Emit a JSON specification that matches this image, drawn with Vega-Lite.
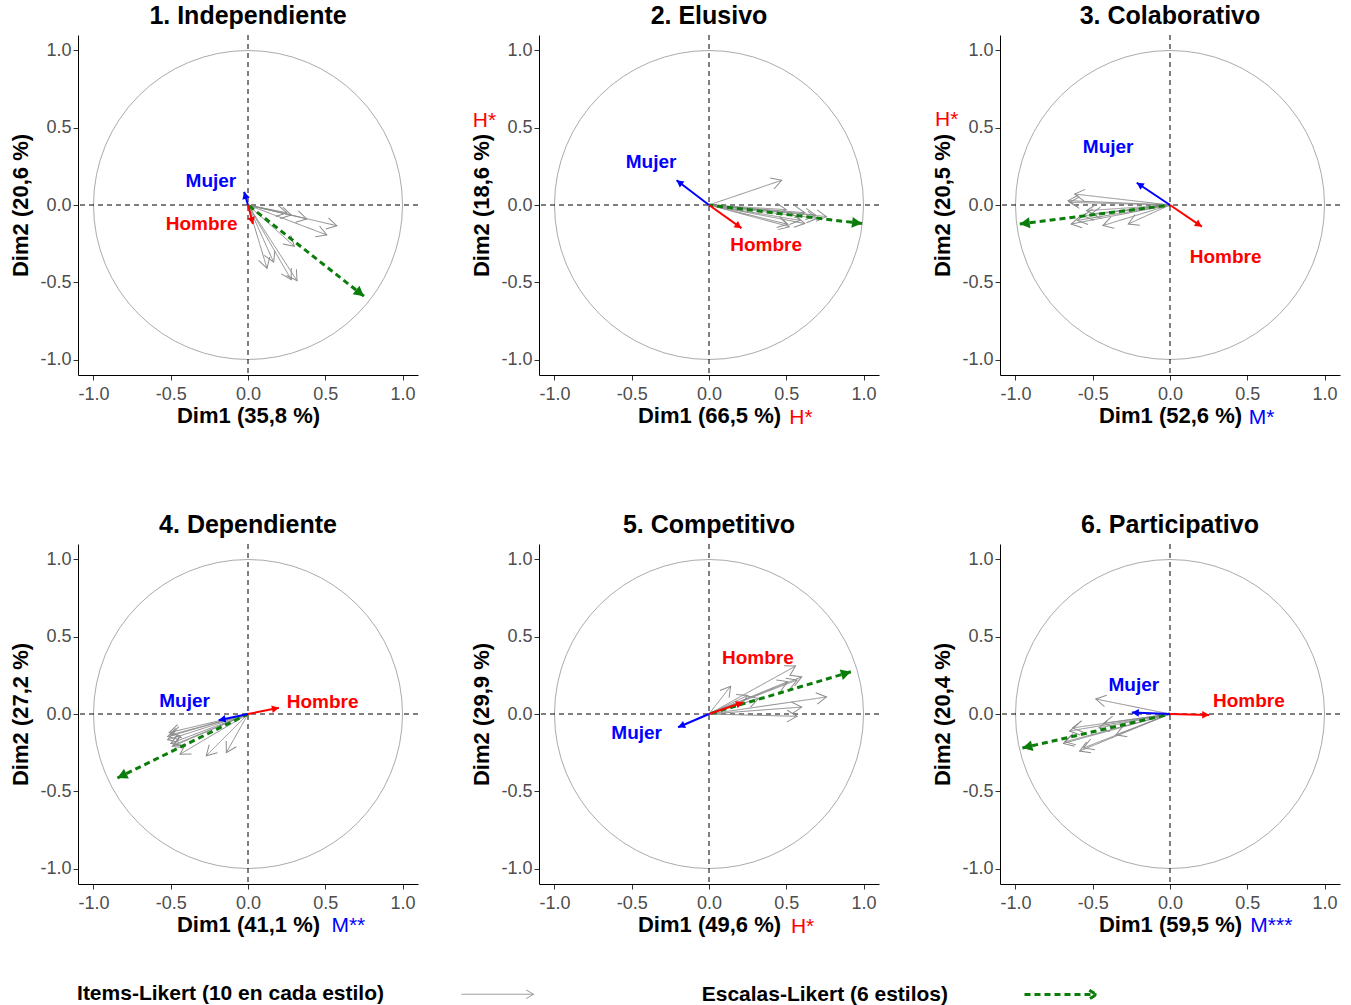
{
  "$schema": "https://vega.github.io/schema/vega-lite/v6.json",
  "padding": {"left": 9, "top": 3, "right": 5, "bottom": 0},
  "datasets": {
    "vec": [
      {"p": 1, "t": "item", "x": 0.25, "y": -0.05},
      {"p": 1, "t": "item", "x": 0.28, "y": -0.065},
      {"p": 1, "t": "item", "x": 0.38, "y": -0.09},
      {"p": 1, "t": "item", "x": 0.575, "y": -0.134},
      {"p": 1, "t": "item", "x": 0.51, "y": -0.194},
      {"p": 1, "t": "item", "x": 0.3, "y": -0.267},
      {"p": 1, "t": "item", "x": 0.123, "y": -0.41},
      {"p": 1, "t": "item", "x": 0.166, "y": -0.37},
      {"p": 1, "t": "item", "x": 0.28, "y": -0.483},
      {"p": 1, "t": "item", "x": 0.317, "y": -0.49},
      {"p": 1, "t": "escala", "x": 0.75, "y": -0.59},
      {"p": 1, "t": "Mujer", "x": -0.025, "y": 0.085},
      {"p": 1, "t": "Hombre", "x": 0.032, "y": -0.123},
      {"p": 2, "t": "item", "x": 0.47, "y": 0.16},
      {"p": 2, "t": "item", "x": 0.5, "y": -0.03},
      {"p": 2, "t": "item", "x": 0.62, "y": -0.05},
      {"p": 2, "t": "item", "x": 0.69, "y": -0.065},
      {"p": 2, "t": "item", "x": 0.76, "y": -0.075},
      {"p": 2, "t": "item", "x": 0.52, "y": -0.14},
      {"p": 2, "t": "item", "x": 0.62, "y": -0.12},
      {"p": 2, "t": "item", "x": 0.59, "y": -0.1},
      {"p": 2, "t": "item", "x": 0.51, "y": -0.125},
      {"p": 2, "t": "item", "x": 0.7, "y": -0.086},
      {"p": 2, "t": "escala", "x": 0.99, "y": -0.12},
      {"p": 2, "t": "Mujer", "x": -0.21, "y": 0.16},
      {"p": 2, "t": "Hombre", "x": 0.21, "y": -0.15},
      {"p": 3, "t": "item", "x": -0.617, "y": 0.071},
      {"p": 3, "t": "item", "x": -0.66, "y": 0.028},
      {"p": 3, "t": "item", "x": -0.65, "y": 0.017},
      {"p": 3, "t": "item", "x": -0.54, "y": -0.037},
      {"p": 3, "t": "item", "x": -0.64, "y": -0.123},
      {"p": 3, "t": "item", "x": -0.434, "y": -0.133},
      {"p": 3, "t": "item", "x": -0.27, "y": -0.123},
      {"p": 3, "t": "item", "x": -0.56, "y": -0.07},
      {"p": 3, "t": "item", "x": -0.51, "y": -0.058},
      {"p": 3, "t": "item", "x": -0.6, "y": -0.1},
      {"p": 3, "t": "escala", "x": -0.972, "y": -0.123},
      {"p": 3, "t": "Mujer", "x": -0.215, "y": 0.144},
      {"p": 3, "t": "Hombre", "x": 0.206, "y": -0.14},
      {"p": 4, "t": "item", "x": -0.51, "y": -0.12},
      {"p": 4, "t": "item", "x": -0.52, "y": -0.146},
      {"p": 4, "t": "item", "x": -0.52, "y": -0.167},
      {"p": 4, "t": "item", "x": -0.5, "y": -0.19},
      {"p": 4, "t": "item", "x": -0.49, "y": -0.21},
      {"p": 4, "t": "item", "x": -0.44, "y": -0.26},
      {"p": 4, "t": "item", "x": -0.27, "y": -0.27},
      {"p": 4, "t": "item", "x": -0.14, "y": -0.25},
      {"p": 4, "t": "item", "x": -0.5, "y": -0.135},
      {"p": 4, "t": "item", "x": -0.48, "y": -0.2},
      {"p": 4, "t": "escala", "x": -0.845, "y": -0.414},
      {"p": 4, "t": "Mujer", "x": -0.19, "y": -0.04},
      {"p": 4, "t": "Hombre", "x": 0.2, "y": 0.04},
      {"p": 5, "t": "item", "x": 0.56, "y": 0.31},
      {"p": 5, "t": "item", "x": 0.6, "y": 0.24},
      {"p": 5, "t": "item", "x": 0.57, "y": 0.22},
      {"p": 5, "t": "item", "x": 0.51, "y": 0.21},
      {"p": 5, "t": "item", "x": 0.14, "y": 0.18},
      {"p": 5, "t": "item", "x": 0.32, "y": 0.1},
      {"p": 5, "t": "item", "x": 0.76, "y": 0.11},
      {"p": 5, "t": "item", "x": 0.6, "y": 0.045},
      {"p": 5, "t": "item", "x": 0.57, "y": -0.015},
      {"p": 5, "t": "item", "x": 0.25, "y": 0.12},
      {"p": 5, "t": "escala", "x": 0.918, "y": 0.273},
      {"p": 5, "t": "Mujer", "x": -0.2, "y": -0.086},
      {"p": 5, "t": "Hombre", "x": 0.22, "y": 0.075},
      {"p": 6, "t": "item", "x": -0.48, "y": 0.097},
      {"p": 6, "t": "item", "x": -0.65, "y": -0.11},
      {"p": 6, "t": "item", "x": -0.63, "y": -0.09},
      {"p": 6, "t": "item", "x": -0.69, "y": -0.19},
      {"p": 6, "t": "item", "x": -0.585, "y": -0.24},
      {"p": 6, "t": "item", "x": -0.43, "y": -0.06},
      {"p": 6, "t": "item", "x": -0.35, "y": -0.135},
      {"p": 6, "t": "item", "x": -0.46, "y": -0.09},
      {"p": 6, "t": "item", "x": -0.68, "y": -0.18},
      {"p": 6, "t": "item", "x": -0.56, "y": -0.22},
      {"p": 6, "t": "escala", "x": -0.955, "y": -0.22},
      {"p": 6, "t": "Mujer", "x": -0.247, "y": 0.009},
      {"p": 6, "t": "Hombre", "x": 0.254, "y": -0.006}
    ],
    "lab": [
      {"p": 1, "t": "Mujer", "x": -0.24, "y": 0.153},
      {"p": 1, "t": "Hombre", "x": -0.3, "y": -0.123},
      {"p": 2, "t": "Mujer", "x": -0.375, "y": 0.28},
      {"p": 2, "t": "Hombre", "x": 0.37, "y": -0.26},
      {"p": 3, "t": "Mujer", "x": -0.4, "y": 0.377},
      {"p": 3, "t": "Hombre", "x": 0.36, "y": -0.337},
      {"p": 4, "t": "Mujer", "x": -0.41, "y": 0.086},
      {"p": 4, "t": "Hombre", "x": 0.483, "y": 0.079},
      {"p": 5, "t": "Mujer", "x": -0.468, "y": -0.123},
      {"p": 5, "t": "Hombre", "x": 0.316, "y": 0.365},
      {"p": 6, "t": "Mujer", "x": -0.234, "y": 0.19},
      {"p": 6, "t": "Hombre", "x": 0.51, "y": 0.086}
    ],
    "note": [
      {"p": 2, "txt": "H*", "x": 0.52, "y": -1.38},
      {"p": 2, "txt": "H*", "x": -1.528, "y": 0.544},
      {"p": 3, "txt": "M*", "x": 0.51, "y": -1.376},
      {"p": 3, "txt": "H*", "x": -1.52, "y": 0.553},
      {"p": 4, "txt": "M**", "x": 0.54, "y": -1.372},
      {"p": 5, "txt": "H*", "x": 0.53, "y": -1.377},
      {"p": 6, "txt": "M***", "x": 0.52, "y": -1.372}
    ]
  },
  "columns": 3,
  "spacing": {"row": 169, "column": 121},
  "bounds": "flush",
  "concat": [
    {
      "title": "1. Independiente",
      "width": 340, "height": 340,
      "layer": [
        {"data": {"values": [{}]}, "mark": {"type": "point", "filled": false, "size": 95481, "color": "#ABABAB", "strokeWidth": 1, "opacity": 1},
         "encoding": {
           "x": {"datum": 0, "type": "quantitative", "scale": {"domain": [-1.1, 1.1]}, "axis": {"title": "Dim1 (35,8 %)", "values": [-1, -0.5, 0, 0.5, 1], "format": ".1f"}},
           "y": {"datum": 0, "type": "quantitative", "scale": {"domain": [-1.1, 1.1]}, "axis": {"title": "Dim2 (20,6 %)", "values": [-1, -0.5, 0, 0.5, 1], "format": ".1f"}}}},
        {"data": {"values": [{}]}, "mark": {"type": "rule", "strokeDash": [5, 4], "color": "black"}, "encoding": {"y": {"datum": 0, "type": "quantitative", "scale": {"domain": [-1.1, 1.1]}}}},
        {"data": {"values": [{}]}, "mark": {"type": "rule", "strokeDash": [5, 4], "color": "black"}, "encoding": {"x": {"datum": 0, "type": "quantitative", "scale": {"domain": [-1.1, 1.1]}}}},
        {"data": {"name": "vec"}, "transform": [{"filter": "datum.p == 1 && datum.t == 'item'"}],
         "mark": {"type": "rule"},
         "encoding": {
           "x": {"field": "x", "type": "quantitative", "scale": {"domain": [-1.1, 1.1]}},
           "y": {"field": "y", "type": "quantitative", "scale": {"domain": [-1.1, 1.1]}},
           "x2": {"datum": 0}, "y2": {"datum": 0},
           "color": {"field": "t", "type": "nominal", "scale": {"domain": ["item", "escala"], "range": ["#8C8C8C", "#0A7D0A"]},
             "legend": {"orient": "none", "legendX": 383, "legendY": 922, "direction": "horizontal", "title": null, "symbolType": "M-1,0L1,0M0.8,-0.12L1,0L0.8,0.12", "symbolSize": 5184, "labelFontSize": 21, "labelFontWeight": "bold", "labelColor": "black", "labelAlign": "right", "labelOffset": -150, "columnPadding": 165, "labelLimit": 500, "labelExpr": "datum.label == 'item' ? 'Items-Likert (10 en cada estilo)' : 'Escalas-Likert (6 estilos)'"}},
           "strokeDash": {"field": "t", "type": "nominal", "scale": {"domain": ["item", "escala"], "range": [[1, 0], [6, 4]]},
             "legend": {"orient": "none", "legendX": 383, "legendY": 922, "direction": "horizontal", "title": null, "symbolType": "M-1,0L1,0M0.8,-0.12L1,0L0.8,0.12", "symbolSize": 5184, "labelFontSize": 21, "labelFontWeight": "bold", "labelColor": "black", "labelAlign": "right", "labelOffset": -150, "columnPadding": 165, "labelLimit": 500, "labelExpr": "datum.label == 'item' ? 'Items-Likert (10 en cada estilo)' : 'Escalas-Likert (6 estilos)'"}},
           "strokeWidth": {"field": "t", "type": "nominal", "scale": {"domain": ["item", "escala"], "range": [1, 3]},
             "legend": {"orient": "none", "legendX": 383, "legendY": 922, "direction": "horizontal", "title": null, "symbolType": "M-1,0L1,0M0.8,-0.12L1,0L0.8,0.12", "symbolSize": 5184, "labelFontSize": 21, "labelFontWeight": "bold", "labelColor": "black", "labelAlign": "right", "labelOffset": -150, "columnPadding": 165, "labelLimit": 500, "labelExpr": "datum.label == 'item' ? 'Items-Likert (10 en cada estilo)' : 'Escalas-Likert (6 estilos)'"}}}},
        {"data": {"name": "vec"}, "transform": [{"filter": "datum.p == 1 && datum.t == 'item'"}, {"calculate": "atan2(-datum.y, datum.x) * 180 / PI", "as": "ang"}],
         "mark": {"type": "point", "shape": "M-1,-0.58L0,0L-1,0.58", "filled": false, "size": 400, "color": "#8C8C8C", "strokeWidth": 1, "opacity": 1},
         "encoding": {"x": {"field": "x", "type": "quantitative", "scale": {"domain": [-1.1, 1.1]}}, "y": {"field": "y", "type": "quantitative", "scale": {"domain": [-1.1, 1.1]}}, "angle": {"field": "ang", "type": "quantitative", "scale": null}}},
        {"data": {"name": "vec"}, "transform": [{"filter": "datum.p == 1 && datum.t == 'escala'"}],
         "mark": {"type": "rule"},
         "encoding": {
           "x": {"field": "x", "type": "quantitative", "scale": {"domain": [-1.1, 1.1]}},
           "y": {"field": "y", "type": "quantitative", "scale": {"domain": [-1.1, 1.1]}},
           "x2": {"datum": 0}, "y2": {"datum": 0},
           "color": {"field": "t", "type": "nominal"}, "strokeDash": {"field": "t", "type": "nominal"}, "strokeWidth": {"field": "t", "type": "nominal"}}},
        {"data": {"name": "vec"}, "transform": [{"filter": "datum.p == 1 && datum.t == 'escala'"}, {"calculate": "atan2(-datum.y, datum.x) * 180 / PI", "as": "ang"}],
         "mark": {"type": "point", "shape": "M-1,-0.55L0,0L-1,0.55Z", "filled": true, "size": 400, "color": "#0A7D0A", "opacity": 1},
         "encoding": {"x": {"field": "x", "type": "quantitative", "scale": {"domain": [-1.1, 1.1]}}, "y": {"field": "y", "type": "quantitative", "scale": {"domain": [-1.1, 1.1]}}, "angle": {"field": "ang", "type": "quantitative", "scale": null}}},
        {"data": {"name": "vec"}, "transform": [{"filter": "datum.p == 1 && (datum.t == 'Mujer' || datum.t == 'Hombre')"}],
         "mark": {"type": "rule", "strokeWidth": 2},
         "encoding": {
           "x": {"field": "x", "type": "quantitative", "scale": {"domain": [-1.1, 1.1]}},
           "y": {"field": "y", "type": "quantitative", "scale": {"domain": [-1.1, 1.1]}},
           "x2": {"datum": 0}, "y2": {"datum": 0},
           "color": {"condition": {"test": "datum.t == 'Mujer'", "value": "#0000FF"}, "value": "#FF0000"}}},
        {"data": {"name": "vec"}, "transform": [{"filter": "datum.p == 1 && (datum.t == 'Mujer' || datum.t == 'Hombre')"}, {"calculate": "atan2(-datum.y, datum.x) * 180 / PI", "as": "ang"}],
         "mark": {"type": "point", "shape": "M-1,-0.55L0,0L-1,0.55Z", "filled": true, "size": 196, "opacity": 1},
         "encoding": {"x": {"field": "x", "type": "quantitative", "scale": {"domain": [-1.1, 1.1]}}, "y": {"field": "y", "type": "quantitative", "scale": {"domain": [-1.1, 1.1]}}, "angle": {"field": "ang", "type": "quantitative", "scale": null},
           "color": {"condition": {"test": "datum.t == 'Mujer'", "value": "#0000FF"}, "value": "#FF0000"}}},
        {"data": {"name": "lab"}, "transform": [{"filter": "datum.p == 1"}],
         "mark": {"type": "text", "fontSize": 19, "fontWeight": "bold", "align": "center", "baseline": "middle"},
         "encoding": {"x": {"field": "x", "type": "quantitative", "scale": {"domain": [-1.1, 1.1]}}, "y": {"field": "y", "type": "quantitative", "scale": {"domain": [-1.1, 1.1]}}, "text": {"field": "t"},
           "color": {"condition": {"test": "datum.t == 'Mujer'", "value": "#0000FF"}, "value": "#FF0000"}}}
      ]
    },
    {
      "title": "2. Elusivo",
      "width": 340, "height": 340,
      "layer": [
        {"data": {"values": [{}]}, "mark": {"type": "point", "filled": false, "size": 95481, "color": "#ABABAB", "strokeWidth": 1, "opacity": 1},
         "encoding": {
           "x": {"datum": 0, "type": "quantitative", "scale": {"domain": [-1.1, 1.1]}, "axis": {"title": "Dim1 (66,5 %)", "values": [-1, -0.5, 0, 0.5, 1], "format": ".1f"}},
           "y": {"datum": 0, "type": "quantitative", "scale": {"domain": [-1.1, 1.1]}, "axis": {"title": "Dim2 (18,6 %)", "values": [-1, -0.5, 0, 0.5, 1], "format": ".1f"}}}},
        {"data": {"values": [{}]}, "mark": {"type": "rule", "strokeDash": [5, 4], "color": "black"}, "encoding": {"y": {"datum": 0, "type": "quantitative", "scale": {"domain": [-1.1, 1.1]}}}},
        {"data": {"values": [{}]}, "mark": {"type": "rule", "strokeDash": [5, 4], "color": "black"}, "encoding": {"x": {"datum": 0, "type": "quantitative", "scale": {"domain": [-1.1, 1.1]}}}},
        {"data": {"name": "vec"}, "transform": [{"filter": "datum.p == 2 && datum.t == 'item'"}],
         "mark": {"type": "rule"},
         "encoding": {
           "x": {"field": "x", "type": "quantitative", "scale": {"domain": [-1.1, 1.1]}},
           "y": {"field": "y", "type": "quantitative", "scale": {"domain": [-1.1, 1.1]}},
           "x2": {"datum": 0}, "y2": {"datum": 0},
           "color": {"field": "t", "type": "nominal"}, "strokeDash": {"field": "t", "type": "nominal"}, "strokeWidth": {"field": "t", "type": "nominal"}}},
        {"data": {"name": "vec"}, "transform": [{"filter": "datum.p == 2 && datum.t == 'item'"}, {"calculate": "atan2(-datum.y, datum.x) * 180 / PI", "as": "ang"}],
         "mark": {"type": "point", "shape": "M-1,-0.58L0,0L-1,0.58", "filled": false, "size": 400, "color": "#8C8C8C", "strokeWidth": 1, "opacity": 1},
         "encoding": {"x": {"field": "x", "type": "quantitative", "scale": {"domain": [-1.1, 1.1]}}, "y": {"field": "y", "type": "quantitative", "scale": {"domain": [-1.1, 1.1]}}, "angle": {"field": "ang", "type": "quantitative", "scale": null}}},
        {"data": {"name": "vec"}, "transform": [{"filter": "datum.p == 2 && datum.t == 'escala'"}],
         "mark": {"type": "rule"},
         "encoding": {
           "x": {"field": "x", "type": "quantitative", "scale": {"domain": [-1.1, 1.1]}},
           "y": {"field": "y", "type": "quantitative", "scale": {"domain": [-1.1, 1.1]}},
           "x2": {"datum": 0}, "y2": {"datum": 0},
           "color": {"field": "t", "type": "nominal"}, "strokeDash": {"field": "t", "type": "nominal"}, "strokeWidth": {"field": "t", "type": "nominal"}}},
        {"data": {"name": "vec"}, "transform": [{"filter": "datum.p == 2 && datum.t == 'escala'"}, {"calculate": "atan2(-datum.y, datum.x) * 180 / PI", "as": "ang"}],
         "mark": {"type": "point", "shape": "M-1,-0.55L0,0L-1,0.55Z", "filled": true, "size": 400, "color": "#0A7D0A", "opacity": 1},
         "encoding": {"x": {"field": "x", "type": "quantitative", "scale": {"domain": [-1.1, 1.1]}}, "y": {"field": "y", "type": "quantitative", "scale": {"domain": [-1.1, 1.1]}}, "angle": {"field": "ang", "type": "quantitative", "scale": null}}},
        {"data": {"name": "vec"}, "transform": [{"filter": "datum.p == 2 && (datum.t == 'Mujer' || datum.t == 'Hombre')"}],
         "mark": {"type": "rule", "strokeWidth": 2},
         "encoding": {
           "x": {"field": "x", "type": "quantitative", "scale": {"domain": [-1.1, 1.1]}},
           "y": {"field": "y", "type": "quantitative", "scale": {"domain": [-1.1, 1.1]}},
           "x2": {"datum": 0}, "y2": {"datum": 0},
           "color": {"condition": {"test": "datum.t == 'Mujer'", "value": "#0000FF"}, "value": "#FF0000"}}},
        {"data": {"name": "vec"}, "transform": [{"filter": "datum.p == 2 && (datum.t == 'Mujer' || datum.t == 'Hombre')"}, {"calculate": "atan2(-datum.y, datum.x) * 180 / PI", "as": "ang"}],
         "mark": {"type": "point", "shape": "M-1,-0.55L0,0L-1,0.55Z", "filled": true, "size": 196, "opacity": 1},
         "encoding": {"x": {"field": "x", "type": "quantitative", "scale": {"domain": [-1.1, 1.1]}}, "y": {"field": "y", "type": "quantitative", "scale": {"domain": [-1.1, 1.1]}}, "angle": {"field": "ang", "type": "quantitative", "scale": null},
           "color": {"condition": {"test": "datum.t == 'Mujer'", "value": "#0000FF"}, "value": "#FF0000"}}},
        {"data": {"name": "lab"}, "transform": [{"filter": "datum.p == 2"}],
         "mark": {"type": "text", "fontSize": 19, "fontWeight": "bold", "align": "center", "baseline": "middle"},
         "encoding": {"x": {"field": "x", "type": "quantitative", "scale": {"domain": [-1.1, 1.1]}}, "y": {"field": "y", "type": "quantitative", "scale": {"domain": [-1.1, 1.1]}}, "text": {"field": "t"},
           "color": {"condition": {"test": "datum.t == 'Mujer'", "value": "#0000FF"}, "value": "#FF0000"}}},
        {"data": {"name": "note"}, "transform": [{"filter": "datum.p == 2"}],
         "mark": {"type": "text", "fontSize": 21, "align": "left", "baseline": "middle"},
         "encoding": {"x": {"field": "x", "type": "quantitative", "scale": {"domain": [-1.1, 1.1]}}, "y": {"field": "y", "type": "quantitative", "scale": {"domain": [-1.1, 1.1]}}, "text": {"field": "txt"},
           "color": {"condition": {"test": "indexof(datum.txt, 'H') == 0", "value": "#FF0000"}, "value": "#0000FF"}}}
      ]
    },
    {
      "title": "3. Colaborativo",
      "width": 340, "height": 340,
      "layer": [
        {"data": {"values": [{}]}, "mark": {"type": "point", "filled": false, "size": 95481, "color": "#ABABAB", "strokeWidth": 1, "opacity": 1},
         "encoding": {
           "x": {"datum": 0, "type": "quantitative", "scale": {"domain": [-1.1, 1.1]}, "axis": {"title": "Dim1 (52,6 %)", "values": [-1, -0.5, 0, 0.5, 1], "format": ".1f"}},
           "y": {"datum": 0, "type": "quantitative", "scale": {"domain": [-1.1, 1.1]}, "axis": {"title": "Dim2 (20,5 %)", "values": [-1, -0.5, 0, 0.5, 1], "format": ".1f"}}}},
        {"data": {"values": [{}]}, "mark": {"type": "rule", "strokeDash": [5, 4], "color": "black"}, "encoding": {"y": {"datum": 0, "type": "quantitative", "scale": {"domain": [-1.1, 1.1]}}}},
        {"data": {"values": [{}]}, "mark": {"type": "rule", "strokeDash": [5, 4], "color": "black"}, "encoding": {"x": {"datum": 0, "type": "quantitative", "scale": {"domain": [-1.1, 1.1]}}}},
        {"data": {"name": "vec"}, "transform": [{"filter": "datum.p == 3 && datum.t == 'item'"}],
         "mark": {"type": "rule"},
         "encoding": {
           "x": {"field": "x", "type": "quantitative", "scale": {"domain": [-1.1, 1.1]}},
           "y": {"field": "y", "type": "quantitative", "scale": {"domain": [-1.1, 1.1]}},
           "x2": {"datum": 0}, "y2": {"datum": 0},
           "color": {"field": "t", "type": "nominal"}, "strokeDash": {"field": "t", "type": "nominal"}, "strokeWidth": {"field": "t", "type": "nominal"}}},
        {"data": {"name": "vec"}, "transform": [{"filter": "datum.p == 3 && datum.t == 'item'"}, {"calculate": "atan2(-datum.y, datum.x) * 180 / PI", "as": "ang"}],
         "mark": {"type": "point", "shape": "M-1,-0.58L0,0L-1,0.58", "filled": false, "size": 400, "color": "#8C8C8C", "strokeWidth": 1, "opacity": 1},
         "encoding": {"x": {"field": "x", "type": "quantitative", "scale": {"domain": [-1.1, 1.1]}}, "y": {"field": "y", "type": "quantitative", "scale": {"domain": [-1.1, 1.1]}}, "angle": {"field": "ang", "type": "quantitative", "scale": null}}},
        {"data": {"name": "vec"}, "transform": [{"filter": "datum.p == 3 && datum.t == 'escala'"}],
         "mark": {"type": "rule"},
         "encoding": {
           "x": {"field": "x", "type": "quantitative", "scale": {"domain": [-1.1, 1.1]}},
           "y": {"field": "y", "type": "quantitative", "scale": {"domain": [-1.1, 1.1]}},
           "x2": {"datum": 0}, "y2": {"datum": 0},
           "color": {"field": "t", "type": "nominal"}, "strokeDash": {"field": "t", "type": "nominal"}, "strokeWidth": {"field": "t", "type": "nominal"}}},
        {"data": {"name": "vec"}, "transform": [{"filter": "datum.p == 3 && datum.t == 'escala'"}, {"calculate": "atan2(-datum.y, datum.x) * 180 / PI", "as": "ang"}],
         "mark": {"type": "point", "shape": "M-1,-0.55L0,0L-1,0.55Z", "filled": true, "size": 400, "color": "#0A7D0A", "opacity": 1},
         "encoding": {"x": {"field": "x", "type": "quantitative", "scale": {"domain": [-1.1, 1.1]}}, "y": {"field": "y", "type": "quantitative", "scale": {"domain": [-1.1, 1.1]}}, "angle": {"field": "ang", "type": "quantitative", "scale": null}}},
        {"data": {"name": "vec"}, "transform": [{"filter": "datum.p == 3 && (datum.t == 'Mujer' || datum.t == 'Hombre')"}],
         "mark": {"type": "rule", "strokeWidth": 2},
         "encoding": {
           "x": {"field": "x", "type": "quantitative", "scale": {"domain": [-1.1, 1.1]}},
           "y": {"field": "y", "type": "quantitative", "scale": {"domain": [-1.1, 1.1]}},
           "x2": {"datum": 0}, "y2": {"datum": 0},
           "color": {"condition": {"test": "datum.t == 'Mujer'", "value": "#0000FF"}, "value": "#FF0000"}}},
        {"data": {"name": "vec"}, "transform": [{"filter": "datum.p == 3 && (datum.t == 'Mujer' || datum.t == 'Hombre')"}, {"calculate": "atan2(-datum.y, datum.x) * 180 / PI", "as": "ang"}],
         "mark": {"type": "point", "shape": "M-1,-0.55L0,0L-1,0.55Z", "filled": true, "size": 196, "opacity": 1},
         "encoding": {"x": {"field": "x", "type": "quantitative", "scale": {"domain": [-1.1, 1.1]}}, "y": {"field": "y", "type": "quantitative", "scale": {"domain": [-1.1, 1.1]}}, "angle": {"field": "ang", "type": "quantitative", "scale": null},
           "color": {"condition": {"test": "datum.t == 'Mujer'", "value": "#0000FF"}, "value": "#FF0000"}}},
        {"data": {"name": "lab"}, "transform": [{"filter": "datum.p == 3"}],
         "mark": {"type": "text", "fontSize": 19, "fontWeight": "bold", "align": "center", "baseline": "middle"},
         "encoding": {"x": {"field": "x", "type": "quantitative", "scale": {"domain": [-1.1, 1.1]}}, "y": {"field": "y", "type": "quantitative", "scale": {"domain": [-1.1, 1.1]}}, "text": {"field": "t"},
           "color": {"condition": {"test": "datum.t == 'Mujer'", "value": "#0000FF"}, "value": "#FF0000"}}},
        {"data": {"name": "note"}, "transform": [{"filter": "datum.p == 3"}],
         "mark": {"type": "text", "fontSize": 21, "align": "left", "baseline": "middle"},
         "encoding": {"x": {"field": "x", "type": "quantitative", "scale": {"domain": [-1.1, 1.1]}}, "y": {"field": "y", "type": "quantitative", "scale": {"domain": [-1.1, 1.1]}}, "text": {"field": "txt"},
           "color": {"condition": {"test": "indexof(datum.txt, 'H') == 0", "value": "#FF0000"}, "value": "#0000FF"}}}
      ]
    },
    {
      "title": "4. Dependiente",
      "width": 340, "height": 340,
      "layer": [
        {"data": {"values": [{}]}, "mark": {"type": "point", "filled": false, "size": 95481, "color": "#ABABAB", "strokeWidth": 1, "opacity": 1},
         "encoding": {
           "x": {"datum": 0, "type": "quantitative", "scale": {"domain": [-1.1, 1.1]}, "axis": {"title": "Dim1 (41,1 %)", "values": [-1, -0.5, 0, 0.5, 1], "format": ".1f"}},
           "y": {"datum": 0, "type": "quantitative", "scale": {"domain": [-1.1, 1.1]}, "axis": {"title": "Dim2 (27,2 %)", "values": [-1, -0.5, 0, 0.5, 1], "format": ".1f"}}}},
        {"data": {"values": [{}]}, "mark": {"type": "rule", "strokeDash": [5, 4], "color": "black"}, "encoding": {"y": {"datum": 0, "type": "quantitative", "scale": {"domain": [-1.1, 1.1]}}}},
        {"data": {"values": [{}]}, "mark": {"type": "rule", "strokeDash": [5, 4], "color": "black"}, "encoding": {"x": {"datum": 0, "type": "quantitative", "scale": {"domain": [-1.1, 1.1]}}}},
        {"data": {"name": "vec"}, "transform": [{"filter": "datum.p == 4 && datum.t == 'item'"}],
         "mark": {"type": "rule"},
         "encoding": {
           "x": {"field": "x", "type": "quantitative", "scale": {"domain": [-1.1, 1.1]}},
           "y": {"field": "y", "type": "quantitative", "scale": {"domain": [-1.1, 1.1]}},
           "x2": {"datum": 0}, "y2": {"datum": 0},
           "color": {"field": "t", "type": "nominal"}, "strokeDash": {"field": "t", "type": "nominal"}, "strokeWidth": {"field": "t", "type": "nominal"}}},
        {"data": {"name": "vec"}, "transform": [{"filter": "datum.p == 4 && datum.t == 'item'"}, {"calculate": "atan2(-datum.y, datum.x) * 180 / PI", "as": "ang"}],
         "mark": {"type": "point", "shape": "M-1,-0.58L0,0L-1,0.58", "filled": false, "size": 400, "color": "#8C8C8C", "strokeWidth": 1, "opacity": 1},
         "encoding": {"x": {"field": "x", "type": "quantitative", "scale": {"domain": [-1.1, 1.1]}}, "y": {"field": "y", "type": "quantitative", "scale": {"domain": [-1.1, 1.1]}}, "angle": {"field": "ang", "type": "quantitative", "scale": null}}},
        {"data": {"name": "vec"}, "transform": [{"filter": "datum.p == 4 && datum.t == 'escala'"}],
         "mark": {"type": "rule"},
         "encoding": {
           "x": {"field": "x", "type": "quantitative", "scale": {"domain": [-1.1, 1.1]}},
           "y": {"field": "y", "type": "quantitative", "scale": {"domain": [-1.1, 1.1]}},
           "x2": {"datum": 0}, "y2": {"datum": 0},
           "color": {"field": "t", "type": "nominal"}, "strokeDash": {"field": "t", "type": "nominal"}, "strokeWidth": {"field": "t", "type": "nominal"}}},
        {"data": {"name": "vec"}, "transform": [{"filter": "datum.p == 4 && datum.t == 'escala'"}, {"calculate": "atan2(-datum.y, datum.x) * 180 / PI", "as": "ang"}],
         "mark": {"type": "point", "shape": "M-1,-0.55L0,0L-1,0.55Z", "filled": true, "size": 400, "color": "#0A7D0A", "opacity": 1},
         "encoding": {"x": {"field": "x", "type": "quantitative", "scale": {"domain": [-1.1, 1.1]}}, "y": {"field": "y", "type": "quantitative", "scale": {"domain": [-1.1, 1.1]}}, "angle": {"field": "ang", "type": "quantitative", "scale": null}}},
        {"data": {"name": "vec"}, "transform": [{"filter": "datum.p == 4 && (datum.t == 'Mujer' || datum.t == 'Hombre')"}],
         "mark": {"type": "rule", "strokeWidth": 2},
         "encoding": {
           "x": {"field": "x", "type": "quantitative", "scale": {"domain": [-1.1, 1.1]}},
           "y": {"field": "y", "type": "quantitative", "scale": {"domain": [-1.1, 1.1]}},
           "x2": {"datum": 0}, "y2": {"datum": 0},
           "color": {"condition": {"test": "datum.t == 'Mujer'", "value": "#0000FF"}, "value": "#FF0000"}}},
        {"data": {"name": "vec"}, "transform": [{"filter": "datum.p == 4 && (datum.t == 'Mujer' || datum.t == 'Hombre')"}, {"calculate": "atan2(-datum.y, datum.x) * 180 / PI", "as": "ang"}],
         "mark": {"type": "point", "shape": "M-1,-0.55L0,0L-1,0.55Z", "filled": true, "size": 196, "opacity": 1},
         "encoding": {"x": {"field": "x", "type": "quantitative", "scale": {"domain": [-1.1, 1.1]}}, "y": {"field": "y", "type": "quantitative", "scale": {"domain": [-1.1, 1.1]}}, "angle": {"field": "ang", "type": "quantitative", "scale": null},
           "color": {"condition": {"test": "datum.t == 'Mujer'", "value": "#0000FF"}, "value": "#FF0000"}}},
        {"data": {"name": "lab"}, "transform": [{"filter": "datum.p == 4"}],
         "mark": {"type": "text", "fontSize": 19, "fontWeight": "bold", "align": "center", "baseline": "middle"},
         "encoding": {"x": {"field": "x", "type": "quantitative", "scale": {"domain": [-1.1, 1.1]}}, "y": {"field": "y", "type": "quantitative", "scale": {"domain": [-1.1, 1.1]}}, "text": {"field": "t"},
           "color": {"condition": {"test": "datum.t == 'Mujer'", "value": "#0000FF"}, "value": "#FF0000"}}},
        {"data": {"name": "note"}, "transform": [{"filter": "datum.p == 4"}],
         "mark": {"type": "text", "fontSize": 21, "align": "left", "baseline": "middle"},
         "encoding": {"x": {"field": "x", "type": "quantitative", "scale": {"domain": [-1.1, 1.1]}}, "y": {"field": "y", "type": "quantitative", "scale": {"domain": [-1.1, 1.1]}}, "text": {"field": "txt"},
           "color": {"condition": {"test": "indexof(datum.txt, 'H') == 0", "value": "#FF0000"}, "value": "#0000FF"}}}
      ]
    },
    {
      "title": "5. Competitivo",
      "width": 340, "height": 340,
      "layer": [
        {"data": {"values": [{}]}, "mark": {"type": "point", "filled": false, "size": 95481, "color": "#ABABAB", "strokeWidth": 1, "opacity": 1},
         "encoding": {
           "x": {"datum": 0, "type": "quantitative", "scale": {"domain": [-1.1, 1.1]}, "axis": {"title": "Dim1 (49,6 %)", "values": [-1, -0.5, 0, 0.5, 1], "format": ".1f"}},
           "y": {"datum": 0, "type": "quantitative", "scale": {"domain": [-1.1, 1.1]}, "axis": {"title": "Dim2 (29,9 %)", "values": [-1, -0.5, 0, 0.5, 1], "format": ".1f"}}}},
        {"data": {"values": [{}]}, "mark": {"type": "rule", "strokeDash": [5, 4], "color": "black"}, "encoding": {"y": {"datum": 0, "type": "quantitative", "scale": {"domain": [-1.1, 1.1]}}}},
        {"data": {"values": [{}]}, "mark": {"type": "rule", "strokeDash": [5, 4], "color": "black"}, "encoding": {"x": {"datum": 0, "type": "quantitative", "scale": {"domain": [-1.1, 1.1]}}}},
        {"data": {"name": "vec"}, "transform": [{"filter": "datum.p == 5 && datum.t == 'item'"}],
         "mark": {"type": "rule"},
         "encoding": {
           "x": {"field": "x", "type": "quantitative", "scale": {"domain": [-1.1, 1.1]}},
           "y": {"field": "y", "type": "quantitative", "scale": {"domain": [-1.1, 1.1]}},
           "x2": {"datum": 0}, "y2": {"datum": 0},
           "color": {"field": "t", "type": "nominal"}, "strokeDash": {"field": "t", "type": "nominal"}, "strokeWidth": {"field": "t", "type": "nominal"}}},
        {"data": {"name": "vec"}, "transform": [{"filter": "datum.p == 5 && datum.t == 'item'"}, {"calculate": "atan2(-datum.y, datum.x) * 180 / PI", "as": "ang"}],
         "mark": {"type": "point", "shape": "M-1,-0.58L0,0L-1,0.58", "filled": false, "size": 400, "color": "#8C8C8C", "strokeWidth": 1, "opacity": 1},
         "encoding": {"x": {"field": "x", "type": "quantitative", "scale": {"domain": [-1.1, 1.1]}}, "y": {"field": "y", "type": "quantitative", "scale": {"domain": [-1.1, 1.1]}}, "angle": {"field": "ang", "type": "quantitative", "scale": null}}},
        {"data": {"name": "vec"}, "transform": [{"filter": "datum.p == 5 && datum.t == 'escala'"}],
         "mark": {"type": "rule"},
         "encoding": {
           "x": {"field": "x", "type": "quantitative", "scale": {"domain": [-1.1, 1.1]}},
           "y": {"field": "y", "type": "quantitative", "scale": {"domain": [-1.1, 1.1]}},
           "x2": {"datum": 0}, "y2": {"datum": 0},
           "color": {"field": "t", "type": "nominal"}, "strokeDash": {"field": "t", "type": "nominal"}, "strokeWidth": {"field": "t", "type": "nominal"}}},
        {"data": {"name": "vec"}, "transform": [{"filter": "datum.p == 5 && datum.t == 'escala'"}, {"calculate": "atan2(-datum.y, datum.x) * 180 / PI", "as": "ang"}],
         "mark": {"type": "point", "shape": "M-1,-0.55L0,0L-1,0.55Z", "filled": true, "size": 400, "color": "#0A7D0A", "opacity": 1},
         "encoding": {"x": {"field": "x", "type": "quantitative", "scale": {"domain": [-1.1, 1.1]}}, "y": {"field": "y", "type": "quantitative", "scale": {"domain": [-1.1, 1.1]}}, "angle": {"field": "ang", "type": "quantitative", "scale": null}}},
        {"data": {"name": "vec"}, "transform": [{"filter": "datum.p == 5 && (datum.t == 'Mujer' || datum.t == 'Hombre')"}],
         "mark": {"type": "rule", "strokeWidth": 2},
         "encoding": {
           "x": {"field": "x", "type": "quantitative", "scale": {"domain": [-1.1, 1.1]}},
           "y": {"field": "y", "type": "quantitative", "scale": {"domain": [-1.1, 1.1]}},
           "x2": {"datum": 0}, "y2": {"datum": 0},
           "color": {"condition": {"test": "datum.t == 'Mujer'", "value": "#0000FF"}, "value": "#FF0000"}}},
        {"data": {"name": "vec"}, "transform": [{"filter": "datum.p == 5 && (datum.t == 'Mujer' || datum.t == 'Hombre')"}, {"calculate": "atan2(-datum.y, datum.x) * 180 / PI", "as": "ang"}],
         "mark": {"type": "point", "shape": "M-1,-0.55L0,0L-1,0.55Z", "filled": true, "size": 196, "opacity": 1},
         "encoding": {"x": {"field": "x", "type": "quantitative", "scale": {"domain": [-1.1, 1.1]}}, "y": {"field": "y", "type": "quantitative", "scale": {"domain": [-1.1, 1.1]}}, "angle": {"field": "ang", "type": "quantitative", "scale": null},
           "color": {"condition": {"test": "datum.t == 'Mujer'", "value": "#0000FF"}, "value": "#FF0000"}}},
        {"data": {"name": "lab"}, "transform": [{"filter": "datum.p == 5"}],
         "mark": {"type": "text", "fontSize": 19, "fontWeight": "bold", "align": "center", "baseline": "middle"},
         "encoding": {"x": {"field": "x", "type": "quantitative", "scale": {"domain": [-1.1, 1.1]}}, "y": {"field": "y", "type": "quantitative", "scale": {"domain": [-1.1, 1.1]}}, "text": {"field": "t"},
           "color": {"condition": {"test": "datum.t == 'Mujer'", "value": "#0000FF"}, "value": "#FF0000"}}},
        {"data": {"name": "note"}, "transform": [{"filter": "datum.p == 5"}],
         "mark": {"type": "text", "fontSize": 21, "align": "left", "baseline": "middle"},
         "encoding": {"x": {"field": "x", "type": "quantitative", "scale": {"domain": [-1.1, 1.1]}}, "y": {"field": "y", "type": "quantitative", "scale": {"domain": [-1.1, 1.1]}}, "text": {"field": "txt"},
           "color": {"condition": {"test": "indexof(datum.txt, 'H') == 0", "value": "#FF0000"}, "value": "#0000FF"}}}
      ]
    },
    {
      "title": "6. Participativo",
      "width": 340, "height": 340,
      "layer": [
        {"data": {"values": [{}]}, "mark": {"type": "point", "filled": false, "size": 95481, "color": "#ABABAB", "strokeWidth": 1, "opacity": 1},
         "encoding": {
           "x": {"datum": 0, "type": "quantitative", "scale": {"domain": [-1.1, 1.1]}, "axis": {"title": "Dim1 (59,5 %)", "values": [-1, -0.5, 0, 0.5, 1], "format": ".1f"}},
           "y": {"datum": 0, "type": "quantitative", "scale": {"domain": [-1.1, 1.1]}, "axis": {"title": "Dim2 (20,4 %)", "values": [-1, -0.5, 0, 0.5, 1], "format": ".1f"}}}},
        {"data": {"values": [{}]}, "mark": {"type": "rule", "strokeDash": [5, 4], "color": "black"}, "encoding": {"y": {"datum": 0, "type": "quantitative", "scale": {"domain": [-1.1, 1.1]}}}},
        {"data": {"values": [{}]}, "mark": {"type": "rule", "strokeDash": [5, 4], "color": "black"}, "encoding": {"x": {"datum": 0, "type": "quantitative", "scale": {"domain": [-1.1, 1.1]}}}},
        {"data": {"name": "vec"}, "transform": [{"filter": "datum.p == 6 && datum.t == 'item'"}],
         "mark": {"type": "rule"},
         "encoding": {
           "x": {"field": "x", "type": "quantitative", "scale": {"domain": [-1.1, 1.1]}},
           "y": {"field": "y", "type": "quantitative", "scale": {"domain": [-1.1, 1.1]}},
           "x2": {"datum": 0}, "y2": {"datum": 0},
           "color": {"field": "t", "type": "nominal"}, "strokeDash": {"field": "t", "type": "nominal"}, "strokeWidth": {"field": "t", "type": "nominal"}}},
        {"data": {"name": "vec"}, "transform": [{"filter": "datum.p == 6 && datum.t == 'item'"}, {"calculate": "atan2(-datum.y, datum.x) * 180 / PI", "as": "ang"}],
         "mark": {"type": "point", "shape": "M-1,-0.58L0,0L-1,0.58", "filled": false, "size": 400, "color": "#8C8C8C", "strokeWidth": 1, "opacity": 1},
         "encoding": {"x": {"field": "x", "type": "quantitative", "scale": {"domain": [-1.1, 1.1]}}, "y": {"field": "y", "type": "quantitative", "scale": {"domain": [-1.1, 1.1]}}, "angle": {"field": "ang", "type": "quantitative", "scale": null}}},
        {"data": {"name": "vec"}, "transform": [{"filter": "datum.p == 6 && datum.t == 'escala'"}],
         "mark": {"type": "rule"},
         "encoding": {
           "x": {"field": "x", "type": "quantitative", "scale": {"domain": [-1.1, 1.1]}},
           "y": {"field": "y", "type": "quantitative", "scale": {"domain": [-1.1, 1.1]}},
           "x2": {"datum": 0}, "y2": {"datum": 0},
           "color": {"field": "t", "type": "nominal"}, "strokeDash": {"field": "t", "type": "nominal"}, "strokeWidth": {"field": "t", "type": "nominal"}}},
        {"data": {"name": "vec"}, "transform": [{"filter": "datum.p == 6 && datum.t == 'escala'"}, {"calculate": "atan2(-datum.y, datum.x) * 180 / PI", "as": "ang"}],
         "mark": {"type": "point", "shape": "M-1,-0.55L0,0L-1,0.55Z", "filled": true, "size": 400, "color": "#0A7D0A", "opacity": 1},
         "encoding": {"x": {"field": "x", "type": "quantitative", "scale": {"domain": [-1.1, 1.1]}}, "y": {"field": "y", "type": "quantitative", "scale": {"domain": [-1.1, 1.1]}}, "angle": {"field": "ang", "type": "quantitative", "scale": null}}},
        {"data": {"name": "vec"}, "transform": [{"filter": "datum.p == 6 && (datum.t == 'Mujer' || datum.t == 'Hombre')"}],
         "mark": {"type": "rule", "strokeWidth": 2},
         "encoding": {
           "x": {"field": "x", "type": "quantitative", "scale": {"domain": [-1.1, 1.1]}},
           "y": {"field": "y", "type": "quantitative", "scale": {"domain": [-1.1, 1.1]}},
           "x2": {"datum": 0}, "y2": {"datum": 0},
           "color": {"condition": {"test": "datum.t == 'Mujer'", "value": "#0000FF"}, "value": "#FF0000"}}},
        {"data": {"name": "vec"}, "transform": [{"filter": "datum.p == 6 && (datum.t == 'Mujer' || datum.t == 'Hombre')"}, {"calculate": "atan2(-datum.y, datum.x) * 180 / PI", "as": "ang"}],
         "mark": {"type": "point", "shape": "M-1,-0.55L0,0L-1,0.55Z", "filled": true, "size": 196, "opacity": 1},
         "encoding": {"x": {"field": "x", "type": "quantitative", "scale": {"domain": [-1.1, 1.1]}}, "y": {"field": "y", "type": "quantitative", "scale": {"domain": [-1.1, 1.1]}}, "angle": {"field": "ang", "type": "quantitative", "scale": null},
           "color": {"condition": {"test": "datum.t == 'Mujer'", "value": "#0000FF"}, "value": "#FF0000"}}},
        {"data": {"name": "lab"}, "transform": [{"filter": "datum.p == 6"}],
         "mark": {"type": "text", "fontSize": 19, "fontWeight": "bold", "align": "center", "baseline": "middle"},
         "encoding": {"x": {"field": "x", "type": "quantitative", "scale": {"domain": [-1.1, 1.1]}}, "y": {"field": "y", "type": "quantitative", "scale": {"domain": [-1.1, 1.1]}}, "text": {"field": "t"},
           "color": {"condition": {"test": "datum.t == 'Mujer'", "value": "#0000FF"}, "value": "#FF0000"}}},
        {"data": {"name": "note"}, "transform": [{"filter": "datum.p == 6"}],
         "mark": {"type": "text", "fontSize": 21, "align": "left", "baseline": "middle"},
         "encoding": {"x": {"field": "x", "type": "quantitative", "scale": {"domain": [-1.1, 1.1]}}, "y": {"field": "y", "type": "quantitative", "scale": {"domain": [-1.1, 1.1]}}, "text": {"field": "txt"},
           "color": {"condition": {"test": "indexof(datum.txt, 'H') == 0", "value": "#FF0000"}, "value": "#0000FF"}}}
      ]
    }
  ],
  "config": {
    "font": "Liberation Sans",
    "background": "white",
    "view": {"stroke": null},
    "locale": {"number": {"decimal": ".", "thousands": ",", "grouping": [3], "currency": ["", ""], "minus": "-"}},
    "axis": {"grid": false, "domainColor": "black", "domainWidth": 1, "tickColor": "#333333", "tickSize": 5, "labelFontSize": 18, "labelColor": "#4D4D4D", "labelPadding": 2, "labelFont": "Liberation Sans", "titleFont": "Liberation Sans", "titleFontSize": 22, "titleFontWeight": "bold", "titleColor": "black"},
    "axisX": {"titlePadding": 2, "labelPadding": 5},
    "axisY": {"titlePadding": 7},
    "title": {"fontSize": 25, "fontWeight": "bold", "offset": 6, "anchor": "middle", "color": "black", "font": "Liberation Sans"},
    "legend": {"labelFont": "Liberation Sans"}
  }
}
